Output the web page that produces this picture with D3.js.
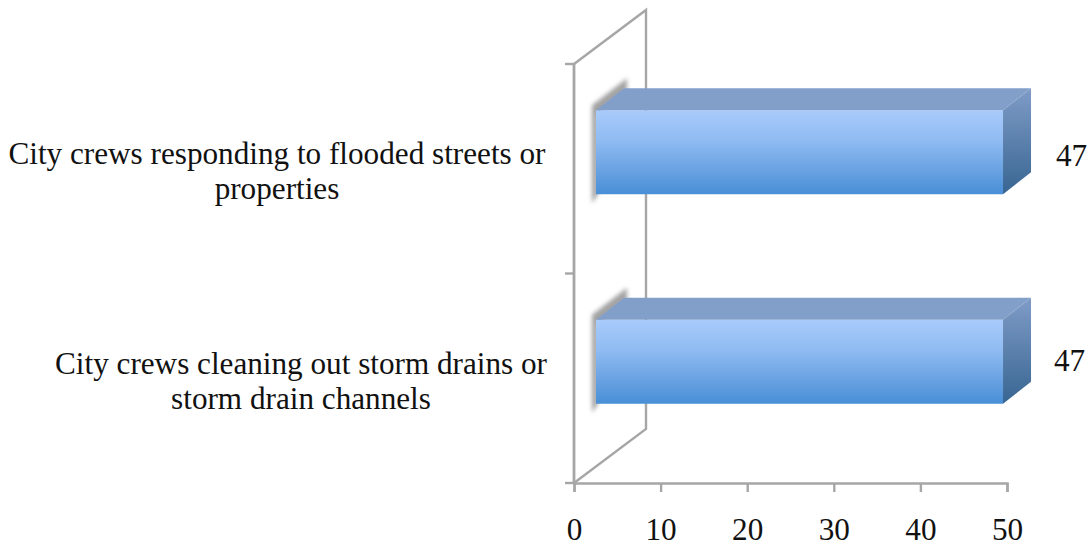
<!DOCTYPE html>
<html>
<head>
<meta charset="utf-8">
<script src="https://cdn.jsdelivr.net/npm/d3@7"></script>
<style>
  html, body { margin: 0; padding: 0; background: #fff; }
  svg { display: block; }
  text { font-family: "Liberation Serif", serif; fill: #111; }
</style>
</head>
<body>
<svg id="chart" width="1090" height="546"></svg>
<script>
const categories = ["responding", "cleaning"];
const categoryLines = [
  ["City crews responding to flooded streets or", "properties"],
  ["City crews cleaning out storm drains or", "storm drain channels"]
];
const values = [47, 47];
const xTicks = [0, 10, 20, 30, 40, 50];

const svg = d3.select("#chart");
const defs = svg.append("defs");

const x = d3.scaleLinear().domain([0, 50]).range([574, 1007]);
const y = d3.scaleBand().domain(categories).range([64, 483]);

// Oblique offset of the chart's depth axis
const depthX = 72, depthY = -54;
const barDepthX = 28, barDepthY = -22;
const barInset = 22;
const barHeight = 84;
const barTop = c => y(c) + y.bandwidth() / 2 - barHeight / 2 - 16.5;

const axisColor = "#a6a6a6";
const textSize = 31.2;

const frontGrad = defs.append("linearGradient").attr("id", "front")
  .attr("x1", 0).attr("y1", 0).attr("x2", 0).attr("y2", 1);
[[0, "#a9cbfb"], [0.35, "#90bcf2"], [0.7, "#6ba3e3"], [1, "#488fd6"]].forEach(([o, c]) =>
  frontGrad.append("stop").attr("offset", o).attr("stop-color", c));

const sideGrad = defs.append("linearGradient").attr("id", "side")
  .attr("x1", 0).attr("y1", 0).attr("x2", 0).attr("y2", 1);
[[0, "#7f9cc7"], [1, "#386592"]].forEach(([o, c]) =>
  sideGrad.append("stop").attr("offset", o).attr("stop-color", c));

defs.append("filter").attr("id", "soft")
  .attr("x", "-30%").attr("y", "-30%").attr("width", "160%").attr("height", "160%")
  .append("feGaussianBlur").attr("stdDeviation", 2);

// Back wall outline
const wall = svg.append("g").attr("fill", "none").attr("stroke", axisColor);
wall.append("path").attr("stroke-width", 2.4)
  .attr("d", d3.line()([
    [x(0), 64], [x(0) + depthX, 64 + depthY], [x(0) + depthX, 483 + depthY], [x(0), 483]
  ]));

// Vertical axis with outward ticks at the band edges
wall.append("line").attr("stroke-width", 2.8)
  .attr("x1", x(0)).attr("x2", x(0)).attr("y1", 64).attr("y2", 483);
wall.selectAll("line.cat-tick")
  .data([64, y(categories[1]), 483])
  .join("line").attr("class", "cat-tick").attr("stroke-width", 2.4)
  .attr("x1", x(0) - 9).attr("x2", x(0)).attr("y1", d => d).attr("y2", d => d);

// Horizontal axis
const axis = svg.append("g").attr("transform", "translate(0,483)")
  .call(d3.axisBottom(x).tickValues(xTicks).tickSize(9).tickPadding(26).tickFormat(d3.format("d")));
axis.selectAll(".domain").attr("stroke", axisColor).attr("stroke-width", 2.4);
axis.selectAll(".tick line").attr("stroke", axisColor).attr("stroke-width", 2.4);
axis.selectAll(".tick text").attr("font-size", textSize).attr("font-family", "Liberation Serif").attr("fill", "#111");

// Bars drawn as extruded boxes
const bars = svg.append("g").selectAll("g")
  .data(categories.map((c, i) => ({ c, v: values[i], i })))
  .join("g")
  .attr("transform", d => `translate(0,${barTop(d.c)})`);

bars.append("path").attr("filter", "url(#soft)").attr("fill", "#a2a2a2")
  .attr("d", d => {
    const l = x(0) + barInset;
    return d3.line()([
      [l + barDepthX + 3, -32], [l + barDepthX + 3, barDepthY + 2], [l + 2, 4], [l + 2, barHeight],
      [l - 4, barHeight + 9], [l - 4, -5]
    ]);
  });

bars.append("rect").attr("fill", "url(#front)")
  .attr("x", x(0) + barInset).attr("y", 0)
  .attr("width", d => x(d.v) - x(0)).attr("height", barHeight);

bars.append("path").attr("fill", "#829fca")
  .attr("d", d => {
    const l = x(0) + barInset, r = x(d.v) + barInset;
    return d3.line()([[l, 0], [l + barDepthX, barDepthY], [r + barDepthX, barDepthY], [r, 0]]);
  });

bars.append("path").attr("fill", "url(#side)")
  .attr("d", d => {
    const r = x(d.v) + barInset;
    return d3.line()([[r, 0], [r + barDepthX, barDepthY], [r + barDepthX, barHeight + barDepthY], [r, barHeight]]);
  });

// Value labels to the right of each bar
const valueDx = [53, 51], valueBaseline = [56, 51];
bars.append("text")
  .attr("x", d => x(d.v) + barInset + valueDx[d.i])
  .attr("y", d => valueBaseline[d.i])
  .attr("font-size", textSize)
  .text(d => d.v);

// Two-line category labels, centred on their own block
const labelCenter = [277, 301];
const labelBaseline = [164, 374];
categoryLines.forEach((lines, i) => {
  svg.append("text")
    .attr("text-anchor", "middle")
    .attr("font-size", textSize)
    .selectAll("tspan").data(lines).join("tspan")
    .attr("x", labelCenter[i])
    .attr("y", (d, k) => labelBaseline[i] + k * 35)
    .text(d => d);
});
</script>
</body>
</html>
